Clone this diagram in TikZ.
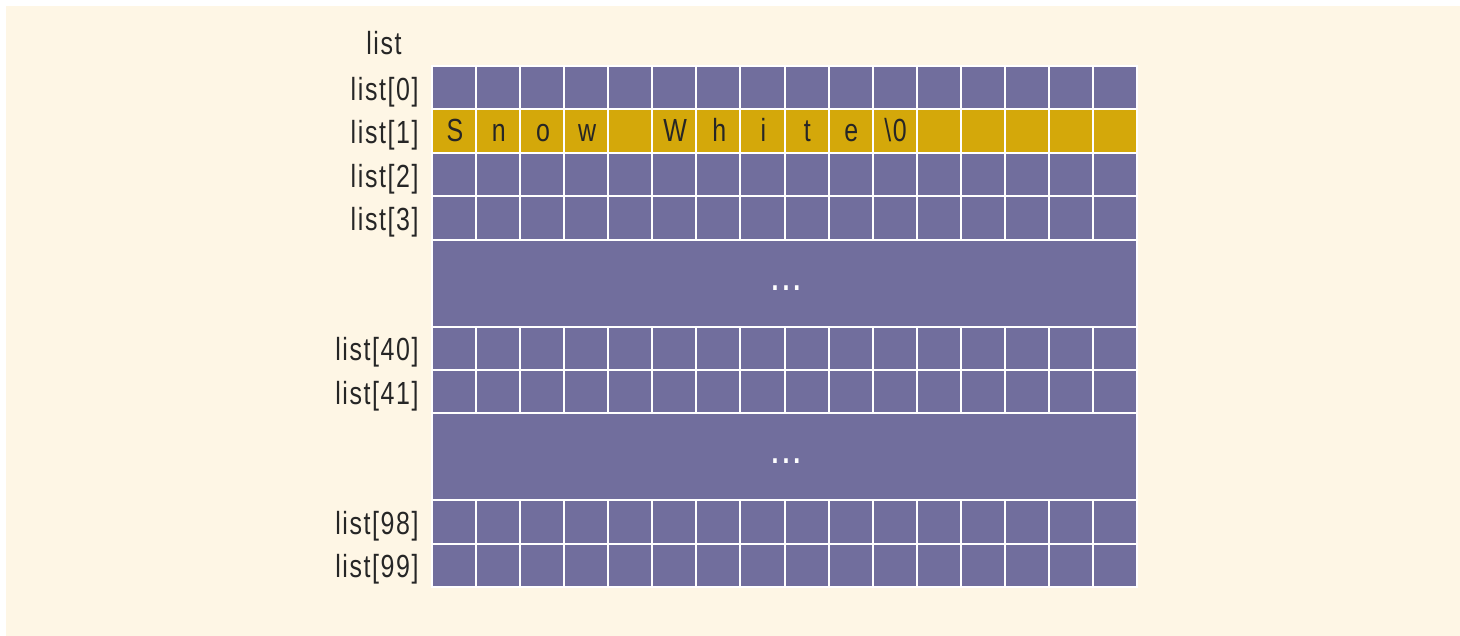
\documentclass[tikz,border=0pt]{standalone}
\usepackage{fontspec}
\setmainfont{Liberation Sans}[FakeStretch=0.78, LetterSpace=5]
\definecolor{cream}{RGB}{254,246,229}
\definecolor{cellpurple}{RGB}{113,110,157}
\definecolor{cellgold}{RGB}{212,168,10}
\definecolor{txt}{RGB}{38,38,38}
\begin{document}
\begin{tikzpicture}[x=0.5pt,y=-0.5pt,
  cell/.style={draw=white,line width=1pt,fill=cellpurple,inner sep=0pt,
    minimum width=22.031pt,minimum height=21.708pt},
  goldcell/.style={cell,fill=cellgold},
  gap/.style={draw=white,line width=1pt,fill=cellpurple,inner sep=0pt,
    minimum width=352.5pt,minimum height=43.417pt},
  lbl/.style={anchor=base east,inner sep=0pt,text=txt,font=\fontsize{16}{19}\selectfont},
  chr/.style={anchor=base,inner sep=0pt,text=txt,font=\fontsize{16}{19}\selectfont},
  dots/.style={anchor=base,inner sep=0pt,text=white,font=\fontsize{16}{19}\bfseries}]
\useasboundingbox (0,0) rectangle (1460,636);
\fill[white] (0,0) rectangle (1460,636);
\fill[cream] (6,6) rectangle (1460,636);
% rows: name / row unit
\foreach \r/\k in {0/0,2/2,3/3,40/6,41/7,98/10,99/11}{
  \foreach \c in {0,...,15}{
    \node[cell] (r\r c\c) at ({432+(\c+0.5)*44.0625},{66+(\k+0.5)*43.417}) {};
  }
  \node[lbl] (l\r) at (419,{66+(\k+0.5)*43.417+12.5}) {list[\r]};
}
\foreach \c in {0,...,15}{
  \node[goldcell] (r1c\c) at ({432+(\c+0.5)*44.0625},{66+1.5*43.417}) {};
}
\node[lbl] (l1) at (419,{66+1.5*43.417+12.5}) {list[1]};
\node[chr] (hdr) at (384,55) {list};
% gap blocks
\node[gap] (gapA) at (784.5,{66+5*43.417}) {};
\node[gap] (gapB) at (784.5,{66+9*43.417}) {};
\node[dots] (dotsA) at (786,{66+5*43.417+7}) {.\kern2pt.\kern2pt.};
\node[dots] (dotsB) at (786,{66+9*43.417+7}) {.\kern2pt.\kern2pt.};
% characters of "Snow White"
\foreach \c/\t in {0/S,1/n,2/o,3/w,5/W,6/h,7/i,8/t,9/e,10/{\textbackslash0}}{
  \node[chr] (ch\c) at ({432+(\c+0.5)*44.0625+0.8},{66+1.5*43.417+10.6}) {\t};
}
\end{tikzpicture}
\end{document}
